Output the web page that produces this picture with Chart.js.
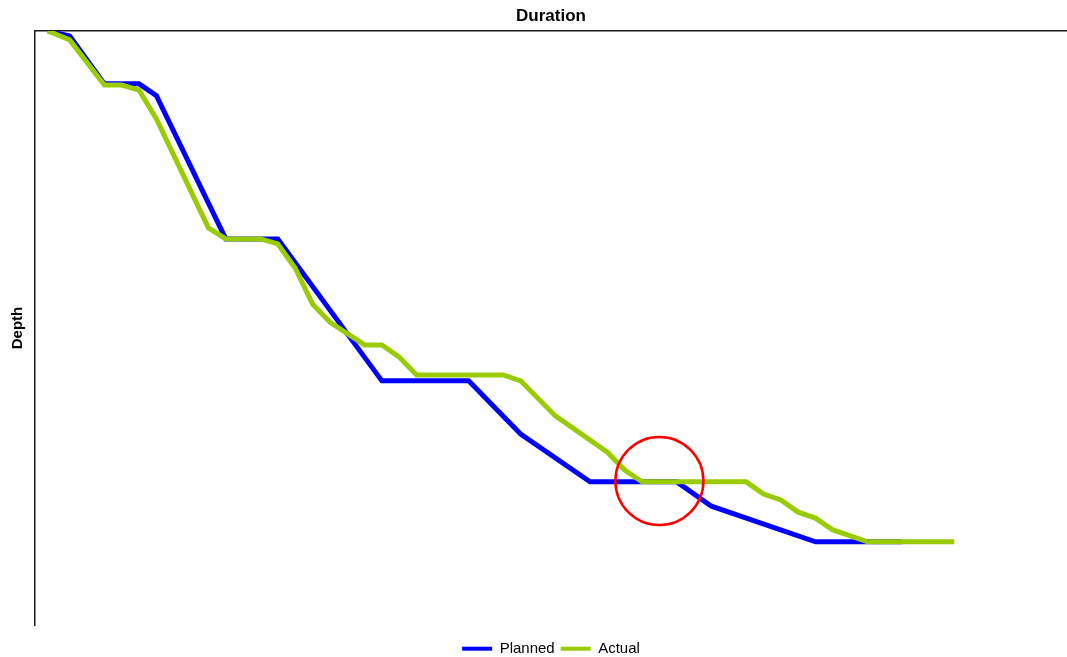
<!DOCTYPE html>
<html>
<head>
<meta charset="utf-8">
<title>Duration vs Depth</title>
<script src="https://cdn.jsdelivr.net/npm/chart.js@4.4.1/dist/chart.umd.min.js"></script>
<style>
  html, body { margin: 0; padding: 0; background: #ffffff; overflow: hidden; }
  canvas { display: block; }
</style>
</head>
<body>
<canvas id="chart" width="1067" height="657"></canvas>
<script>
// Planned drilling curve: duration (days) and measured depth (ft)
const plannedDays  = [0.75, 2, 4, 6, 7, 11, 14, 20, 25, 28, 32, 37, 39, 45, 50];
const plannedDepth = [0, 85, 890, 890, 1090, 3500, 3500, 5890, 5890, 6785, 7590, 7590, 8000, 8600, 8600];

// Actual drilling curve
const actualDays  = [0.75, 2, 4, 5, 6, 7, 10, 11, 13, 14, 15, 16, 17, 19, 20, 21, 22, 27, 28, 30, 33, 34, 35, 41, 42, 43, 44, 45, 46, 48, 53];
const actualDepth = [0, 150, 910, 910, 995, 1480, 3315, 3500, 3500, 3585, 3990, 4595, 4900, 5285, 5285, 5490, 5790, 5790, 5890, 6480, 7090, 7390, 7590, 7590, 7795, 7895, 8100, 8200, 8400, 8600, 8600];

// Highlighted point where the actual curve catches up with the plan
const highlightDays  = [36];
const highlightDepth = [7575];

// Axis extents
const daysMax  = 59.5;
const depthMax = 10000;

const toPoints = (xs, ys) => xs.map((x, i) => ({ x: x, y: ys[i] }));

Chart.defaults.font.family = "'Liberation Sans', Arial, sans-serif";
Chart.defaults.color = '#000000';

new Chart(document.getElementById('chart'), {
  type: 'line',
  data: {
    datasets: [
      {
        label: 'Planned',
        data: toPoints(plannedDays, plannedDepth),
        borderColor: '#0000ff',
        backgroundColor: '#0000ff',
        borderWidth: 5,
        pointRadius: 0,
        tension: 0,
        clip: 0,
        order: 3
      },
      {
        label: 'Actual',
        data: toPoints(actualDays, actualDepth),
        borderColor: '#99cc00',
        backgroundColor: '#99cc00',
        borderWidth: 5,
        pointRadius: 0,
        tension: 0,
        clip: 0,
        order: 2
      },
      {
        label: 'highlight',
        data: toPoints(highlightDays, highlightDepth),
        showLine: false,
        pointRadius: 44,
        pointHoverRadius: 44,
        pointBorderWidth: 2.5,
        pointBorderColor: '#ff0000',
        pointBackgroundColor: 'rgba(0,0,0,0)',
        order: 1
      }
    ]
  },
  options: {
    responsive: false,
    maintainAspectRatio: false,
    devicePixelRatio: 1,
    animation: false,
    events: [],
    layout: { autoPadding: false, padding: { left: 5, right: 0, top: 0, bottom: 0 } },
    scales: {
      x: {
        type: 'linear',
        position: 'top',
        min: 0,
        max: daysMax,
        ticks: { display: false },
        grid: { display: false, drawTicks: false },
        border: { display: true, color: '#1a1a1a', width: 1.5 }
      },
      y: {
        type: 'linear',
        reverse: true,
        min: 0,
        max: depthMax,
        ticks: { display: false },
        grid: { display: false, drawTicks: false },
        border: { display: true, color: '#1a1a1a', width: 1.5 },
        title: {
          display: true,
          text: 'Depth',
          font: { size: 15, weight: 'bold' },
          color: '#000000',
          padding: { top: 4, bottom: 8 }
        }
      }
    },
    plugins: {
      title: {
        display: true,
        fullSize: false,
        text: 'Duration',
        font: { size: 17, weight: 'bold' },
        color: '#000000',
        padding: { top: 6.3, bottom: 4.3 }
      },
      legend: {
        display: true,
        position: 'bottom',
        fullSize: false,
        maxHeight: 32,
        title: {
          display: true,
          text: '',
          font: { size: 1 },
          padding: { top: 9, bottom: 0 }
        },
        labels: {
          boxWidth: 30,
          boxHeight: 4,
          padding: 6,
          font: { size: 15 },
          color: '#000000',
          generateLabels: (chart) => chart.data.datasets
            .map((ds, i) => ({
              text: ds.label,
              fillStyle: ds.borderColor,
              strokeStyle: ds.borderColor,
              lineWidth: 0,
              datasetIndex: i
            }))
            .filter(item => item.text !== 'highlight')
        }
      },
      tooltip: { enabled: false }
    }
  }
});
</script>
</body>
</html>
